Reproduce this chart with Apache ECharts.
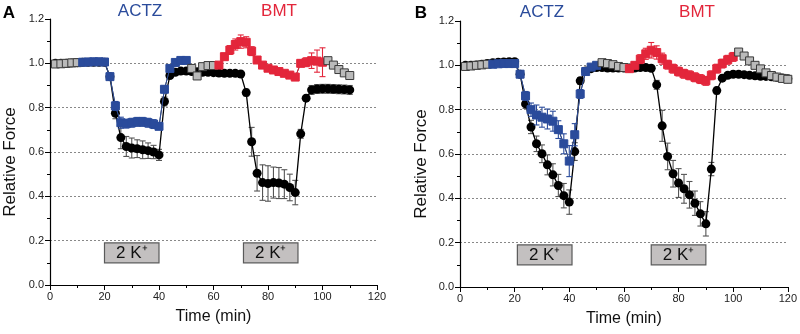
<!DOCTYPE html>
<html>
<head>
<meta charset="utf-8">
<script src="https://cdn.jsdelivr.net/npm/echarts@6/dist/echarts.min.js"></script>
<style>
  html, body { margin: 0; background: #fff; }
  #main { width: 800px; height: 334px; }
</style>
</head>
<body>
<div id="main"></div>
<script>
// panel A
const minutesA = [2,4,6,8,10,12,14,16,18,20,22,24,26,28,30,32,34,36,38,40,
  42,44,46,48,50,52,54,56,58,60,62,64,66,68,70,72,74,76,78,80,
  82,84,86,88,90,92,94,96,98,100,102,104,106,108,110];
const controlA = [1.0,1.0,1.0,1.002,1.003,1.005,1.005,1.005,1.005,1.005,
  0.94,0.775,0.665,0.625,0.618,0.615,0.61,0.606,0.6,0.587,
  0.828,0.945,0.96,0.965,0.965,0.963,0.962,0.96,0.96,0.958,
  0.956,0.955,0.955,0.955,0.952,0.868,0.646,0.504,0.462,0.458,
  0.462,0.46,0.455,0.44,0.417,0.682,0.843,0.88,0.884,0.885,
  0.885,0.884,0.883,0.882,0.88];
const controlErrA = [0.005,0.005,0.005,0.005,0.005,0.005,0.005,0.005,0.005,0.005,
  0.01,0.025,0.05,0.045,0.045,0.04,0.04,0.035,0.03,0.025,
  0.02,0.01,0.008,0.008,0.008,0.008,0.008,0.008,0.008,0.008,
  0.008,0.008,0.008,0.008,0.008,0.015,0.065,0.08,0.08,0.08,
  0.07,0.07,0.065,0.06,0.055,0.02,0.01,0.02,0.02,0.02,
  0.02,0.02,0.02,0.02,0.02];
const drugA = [0.997,0.998,1.0,1.002,1.003,1.005,1.006,1.007,1.007,1.006,
  0.94,0.808,0.732,0.728,0.732,0.736,0.736,0.732,0.726,0.716,
  0.883,0.977,1.004,1.013,1.013,0.977,0.943,0.985,0.99,0.99,
  0.992,1.03,1.06,1.085,1.098,1.095,1.055,1.015,0.992,0.978,
  0.97,0.963,0.955,0.947,0.938,1.0,1.005,1.012,1.01,1.005,
  1.012,0.992,0.972,0.957,0.945];
const drugErrA = [0.003,0.003,0.003,0.003,0.003,0.005,0.005,0.005,0.005,0.005,
  0.01,0.02,0.025,0.02,0.02,0.02,0.02,0.02,0.02,0.015,
  0.015,0.01,0.005,0.005,0.005,0.005,0.005,0.005,0.005,0.005,
  0.01,0.015,0.02,0.025,0.03,0.025,0.02,0.01,0.01,0.01,
  0.01,0.01,0.01,0.01,0.01,0.015,0.02,0.035,0.05,0.065,
  0.005,0.005,0.005,0.005,0.005];
const actzA = [12, 50];
const bmtA = [62, 100];
const lowKA = [[20, 40], [71, 91]];

// panel B
const minutesB = [2,4,6,8,10,12,14,16,18,20,22,24,26,28,30,32,34,36,38,40,
  42,44,46,48,50,52,54,56,58,60,62,64,66,68,70,72,74,76,78,80,
  82,84,86,88,90,92,94,96,98,100,102,104,106,108,110,112,114,116,118,120];
const controlB = [1.0,1.0,1.002,1.005,1.008,1.012,1.014,1.015,1.016,1.016,
  0.96,0.826,0.722,0.646,0.601,0.551,0.506,0.458,0.412,0.383,
  0.611,0.93,0.975,0.985,0.99,0.99,0.988,0.988,0.988,0.988,
  0.988,0.988,0.99,0.99,0.987,0.912,0.727,0.589,0.511,0.469,
  0.443,0.416,0.378,0.33,0.285,0.532,0.886,0.942,0.955,0.96,
  0.96,0.958,0.955,0.953,0.951,0.95,0.948,0.946,0.943,0.94];
const controlErrB = [0.005,0.005,0.005,0.005,0.005,0.005,0.005,0.005,0.005,0.005,
  0.01,0.02,0.03,0.035,0.04,0.045,0.05,0.05,0.055,0.055,
  0.04,0.015,0.005,0.005,0.005,0.005,0.005,0.005,0.005,0.005,
  0.005,0.005,0.005,0.005,0.005,0.02,0.07,0.06,0.06,0.065,
  0.065,0.06,0.055,0.055,0.055,0.03,0.015,0.008,0.008,0.008,
  0.008,0.008,0.008,0.008,0.008,0.008,0.008,0.008,0.008,0.008];
const drugB = [0.995,0.997,1.0,1.002,1.005,1.005,1.007,1.008,1.008,1.008,
  0.96,0.862,0.8,0.776,0.766,0.758,0.748,0.71,0.646,0.568,
  0.687,0.871,0.972,0.992,1.0,1.012,1.008,1.003,0.995,0.99,
  0.985,1.0,1.028,1.052,1.068,1.058,1.03,1.003,0.985,0.972,
  0.962,0.955,0.946,0.938,0.93,0.955,0.985,1.008,1.025,1.038,
  1.06,1.042,1.02,1.0,0.984,0.966,0.954,0.947,0.941,0.937];
const drugErrB = [0.004,0.004,0.004,0.004,0.004,0.004,0.004,0.004,0.004,0.004,
  0.01,0.02,0.03,0.045,0.045,0.045,0.045,0.04,0.045,0.07,
  0.05,0.02,0.008,0.006,0.005,0.005,0.005,0.005,0.005,0.005,
  0.01,0.015,0.02,0.025,0.035,0.03,0.025,0.02,0.02,0.02,
  0.02,0.02,0.02,0.02,0.02,0.02,0.02,0.02,0.02,0.02,
  0.035,0.025,0.015,0.01,0.01,0.008,0.006,0.006,0.005,0.005];
const actzB = [12, 50];
const bmtB = [62, 100];
const lowKB = [[21, 41], [70, 90]];

const BLUE = '#2a4b9b';
const RED = '#e3263b';
const GRAY = '#bababa';
const FONT = '"Liberation Sans", Arial, sans-serif';

const chart = echarts.init(document.getElementById('main'), null, { renderer: 'canvas' });

function errorBars(color) {
  return function (params, api) {
    const t = api.value(0);
    const top = api.coord([t, api.value(2)]);
    const bot = api.coord([t, api.value(1)]);
    const half = 3;
    const style = { stroke: color, lineWidth: 1.1 };
    return {
      type: 'group',
      children: [
        { type: 'line', shape: { x1: top[0], y1: top[1], x2: bot[0], y2: bot[1] }, style: style },
        { type: 'line', shape: { x1: top[0] - half, y1: top[1], x2: top[0] + half, y2: top[1] }, style: style },
        { type: 'line', shape: { x1: bot[0] - half, y1: bot[1], x2: bot[0] + half, y2: bot[1] }, style: style }
      ]
    };
  };
}

function errSeries(idx, mins, vals, errs, color, z) {
  return {
    type: 'custom',
    xAxisIndex: idx, yAxisIndex: idx,
    renderItem: errorBars(color),
    encode: { x: 0, y: [1, 2] },
    data: mins.map((t, i) => [t, vals[i] - errs[i], vals[i] + errs[i]]),
    z: z, silent: true
  };
}

function phaseOf(t, actz, bmt) {
  if (t >= actz[0] && t <= actz[1]) return 'actz';
  if (t >= bmt[0] && t <= bmt[1]) return 'bmt';
  return 'wash';
}

const phaseStyle = {
  actz: { color: BLUE, border: BLUE, line: BLUE },
  bmt: { color: RED, border: RED, line: RED },
  wash: { color: GRAY, border: '#3a3a3a', line: '#3a3a3a' }
};

function panelSeries(idx, mins, ctrl, ctrlErr, drug, drugErr, actz, bmt, lowK) {
  const out = [];
  out.push(errSeries(idx, mins, ctrl, ctrlErr, '#555', 2));
  out.push({
    type: 'line', xAxisIndex: idx, yAxisIndex: idx,
    data: mins.map((t, i) => [t, ctrl[i]]),
    symbol: 'circle', symbolSize: 9,
    itemStyle: { color: '#000' },
    lineStyle: { color: '#000', width: 1.3 },
    z: 3, silent: true,
    markArea: {
      silent: true,
      itemStyle: { color: '#c3c0c0', borderColor: '#5a5a5a', borderWidth: 1.2 },
      label: { show: true, position: 'inside', formatter: '2 K\u207A', fontSize: 17, color: '#111', fontFamily: FONT },
      data: lowK.map(w => [{ xAxis: w[0], yAxis: 0.1 }, { xAxis: w[1], yAxis: 0.19 }])
    }
  });
  // thin connector under the drug squares
  out.push({
    type: 'line', xAxisIndex: idx, yAxisIndex: idx,
    data: mins.map((t, i) => [t, drug[i]]),
    symbol: 'none', lineStyle: { color: '#3a3a3a', width: 1 }, z: 4, silent: true
  });
  // split squares into colored runs
  let start = 0;
  for (let i = 1; i <= mins.length; i++) {
    const p = phaseOf(mins[start], actz, bmt);
    if (i === mins.length || phaseOf(mins[i], actz, bmt) !== p) {
      const st = phaseStyle[p];
      const ms = mins.slice(start, i);
      const vs = drug.slice(start, i);
      const es = drugErr.slice(start, i);
      if (p !== 'wash') out.push(errSeries(idx, ms, vs, es, st.line, 5));
      out.push({
        type: 'line', xAxisIndex: idx, yAxisIndex: idx,
        data: ms.map((t, k) => [t, vs[k]]),
        symbol: 'rect', symbolSize: 8,
        itemStyle: { color: st.color, borderColor: st.border, borderWidth: 1 },
        lineStyle: { color: st.line, width: 1 },
        z: 6, silent: true
      });
      start = i;
    }
  }
  return out;
}

function xAxisFor(idx) {
  return {
    gridIndex: idx, type: 'value', min: 0, max: 120, interval: 20,
    name: 'Time (min)', nameLocation: 'middle', nameGap: 24,
    nameTextStyle: { fontSize: 16, color: '#111', fontFamily: FONT },
    axisLine: { show: true, onZero: false, lineStyle: { color: '#000', width: 1.2 } },
    axisTick: { show: true, length: 5, lineStyle: { color: '#000' } },
    minorTick: { show: true, splitNumber: 2, length: 3, lineStyle: { color: '#000' } },
    axisLabel: { fontSize: 11, color: '#222', margin: 6, fontFamily: FONT },
    splitLine: { show: false }
  };
}

function yAxisFor(idx) {
  return {
    gridIndex: idx, type: 'value', min: 0, max: 1.2, interval: 0.2,
    axisLine: { show: true, lineStyle: { color: '#000', width: 1.2 } },
    axisTick: { show: true, length: 5, lineStyle: { color: '#000' } },
    minorTick: { show: true, splitNumber: 2, length: 3, lineStyle: { color: '#000' } },
    axisLabel: { fontSize: 11, color: '#222', margin: 6, fontFamily: FONT, formatter: v => v.toFixed(1) },
    splitLine: { show: true, showMinLine: false, showMaxLine: false, lineStyle: { color: '#888', type: [2, 2], width: 1 } }
  };
}

function label(text, x, y, color, size, weight, rot) {
  return {
    type: 'text', x: x, y: y, rotation: rot || 0,
    style: { text: text, fill: color, font: (weight || 'normal') + ' ' + size + 'px ' + FONT, align: 'center', verticalAlign: 'middle' }
  };
}

const option = {
  animation: false,
  backgroundColor: '#fff',
  grid: [
    { left: 50, right: 423, top: 19, bottom: 49 },
    { left: 460, right: 12, top: 21, bottom: 47 }
  ],
  xAxis: [xAxisFor(0), xAxisFor(1)],
  yAxis: [yAxisFor(0), yAxisFor(1)],
  graphic: [
    label('A', 9, 13, '#000', 17, 'bold'),
    label('B', 421, 13, '#000', 17, 'bold'),
    label('ACTZ', 140, 11, BLUE, 17),
    label('BMT', 279, 11, RED, 17),
    label('ACTZ', 542, 12, BLUE, 17),
    label('BMT', 697, 12, RED, 17),
    label('Relative Force', 10, 162, '#111', 17, 'normal', Math.PI / 2),
    label('Relative Force', 421, 164, '#111', 17, 'normal', Math.PI / 2)
  ],
  series: [].concat(
    panelSeries(0, minutesA, controlA, controlErrA, drugA, drugErrA, actzA, bmtA, lowKA),
    panelSeries(1, minutesB, controlB, controlErrB, drugB, drugErrB, actzB, bmtB, lowKB)
  )
};

chart.setOption(option);
</script>
</body>
</html>
